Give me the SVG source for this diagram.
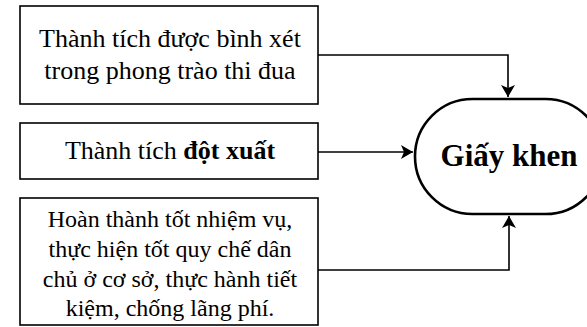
<svg xmlns="http://www.w3.org/2000/svg" width="587" height="327" viewBox="0 0 587 327">
<style>
.box{fill:#fff;stroke:#000;stroke-width:1.6}
.term{fill:#fff;stroke:#000;stroke-width:2.6}
.t{font-family:"Liberation Serif","Times New Roman",serif;fill:#000;text-anchor:middle}
.edge{fill:none;stroke:#000;stroke-width:1.6}
</style>
<defs>
<marker id="ah" viewBox="0 0 12 14" refX="12" refY="7" markerWidth="12" markerHeight="14" markerUnits="userSpaceOnUse" orient="auto">
<path d="M0,0 L12,7 L0,14 L3,7 Z" fill="#000"/>
</marker>
</defs>
<rect width="587" height="327" fill="#fff"/>
<g id="connectors">
<path class="edge" d="M318,55 H508 V97" marker-end="url(#ah)"/>
<path class="edge" d="M318,152 H413" marker-end="url(#ah)"/>
<path class="edge" d="M318,270 H509 V216" marker-end="url(#ah)"/>
</g>
<g id="node1">
<rect class="box" x="20" y="6" width="298" height="98"/>
<text class="t" x="170" y="47" font-size="26">Thành tích được bình xét</text>
<text class="t" x="170" y="79" font-size="26">trong phong trào thi đua</text>
</g>
<g id="node2">
<rect class="box" x="20" y="123" width="298" height="56"/>
<text class="t" x="170" y="159" font-size="26">Thành tích <tspan font-weight="bold">đột xuất</tspan></text>
</g>
<g id="node3">
<rect class="box" x="20" y="198" width="298" height="127"/>
<text class="t" x="170" y="227" font-size="24">Hoàn thành tốt nhiệm vụ,</text>
<text class="t" x="170" y="257" font-size="24">thực hiện tốt quy chế dân</text>
<text class="t" x="170" y="287" font-size="24">chủ ở cơ sở, thực hành tiết</text>
<text class="t" x="170" y="316" font-size="24">kiệm, chống lãng phí.</text>
</g>
<g id="node4">
<rect class="term" x="415" y="99" width="188" height="115" rx="57.5" ry="57.5"/>
<text class="t" x="509" y="166" font-size="31" font-weight="bold">Giấy khen</text>
</g>
</svg>
